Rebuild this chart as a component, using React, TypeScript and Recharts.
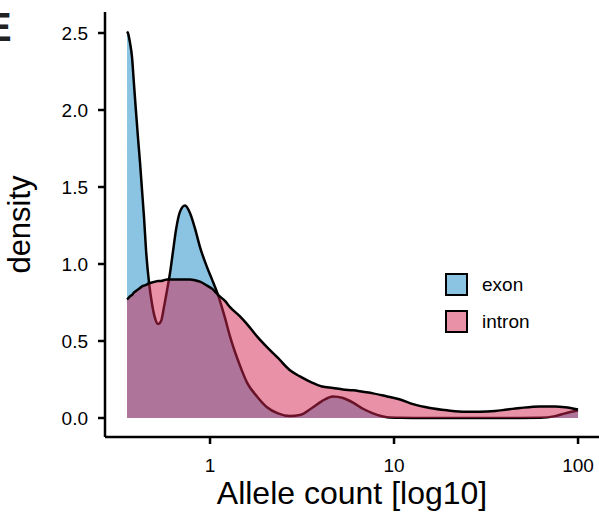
import React from 'react';
import { AreaChart, Area, XAxis, YAxis, Label } from 'recharts';

// allele count (x, log scale) and density of each class
const alleleCounts = [
  0.354, 0.358, 0.367, 0.377, 0.386, 0.396, 0.406, 0.417, 0.427, 0.438,
  0.449, 0.466, 0.484, 0.502, 0.522, 0.542, 0.562, 0.584, 0.606, 0.629,
  0.653, 0.687, 0.731, 0.779, 0.829, 0.882, 0.963, 1.025, 1.105, 1.206,
  1.284, 1.455, 1.589, 1.8, 2.04, 2.34, 2.72, 3.08, 3.58, 4.06,
  4.66, 5.28, 5.99, 6.78, 7.69, 9.16, 10.8, 12.7, 15.7, 19.4,
  24.3, 29.3, 35.4, 41.1, 48.4, 62.2, 75.0, 85.0, 100,
];
const exonDensity = [
  2.51, 2.5, 2.44, 2.34, 2.17, 1.99, 1.82, 1.65, 1.48, 1.3,
  1.09, 0.88, 0.74, 0.65, 0.61, 0.63, 0.72, 0.83, 0.94, 1.08,
  1.22, 1.34, 1.38, 1.33, 1.23, 1.11, 0.98, 0.9, 0.8, 0.65,
  0.53, 0.34, 0.23, 0.14, 0.07, 0.03, 0.013, 0.02, 0.065, 0.11,
  0.14, 0.13, 0.1, 0.06, 0.03, 0.005, 0.001, 0, 0, 0,
  0, 0, 0, 0, 0, 0.001, 0.012, 0.03, 0.05,
];
const intronDensity = [
  0.77, 0.775, 0.79, 0.8, 0.815, 0.825, 0.835, 0.845, 0.855, 0.86,
  0.865, 0.875, 0.88, 0.885, 0.89, 0.89, 0.895, 0.9, 0.9, 0.9,
  0.9, 0.9, 0.9, 0.9, 0.895, 0.885, 0.86, 0.84, 0.8, 0.76,
  0.72, 0.66, 0.61, 0.53, 0.46, 0.39, 0.31, 0.27, 0.23, 0.205,
  0.195, 0.185, 0.18, 0.17, 0.16, 0.14, 0.12, 0.09, 0.065, 0.05,
  0.04, 0.04, 0.045, 0.055, 0.065, 0.075, 0.075, 0.07, 0.055,
];
const xTicks = [1, 10, 100];
const yTicks = [0, 0.5, 1, 1.5, 2, 2.5];
const groups = ['exon', 'intron'];

const FONT = '"Liberation Sans", Arial, Helvetica, sans-serif';
const EXON_FILL = '#8bc4e2';
const INTRON_FILL = '#d1234f';
const INTRON_SWATCH = '#e891a7';

const data = alleleCounts.map((c, i) => ({
  count: c,
  exon: exonDensity[i],
  intron: intronDensity[i],
}));

const tickStyle = { fill: '#000', fontSize: 19, fontFamily: FONT };

export default function App() {
  return (
    <div style={{ position: 'absolute', left: 0, top: 0, width: 599, height: 512, background: '#fff', fontFamily: FONT }}>
      <AreaChart width={599} height={512} data={data} margin={{ top: 12, right: 0, bottom: 0, left: 0 }}>
        <XAxis
          dataKey="count"
          type="number"
          scale="log"
          domain={[0.2687, 130.0]}
          allowDataOverflow
          ticks={xTicks}
          tickFormatter={v => String(v)}
          tick={tickStyle}
          tickSize={7}
          tickMargin={15}
          height={75}
          axisLine={{ stroke: '#000', strokeWidth: 2.5 }}
          tickLine={{ stroke: '#000', strokeWidth: 2.5 }}
        >
          <Label
            content={({ viewBox }: any) => (
              <text x={viewBox.x + viewBox.width / 2} y={504} textAnchor="middle"
                fontSize={32} fontFamily={FONT} fill="#000">
                Allele count [log10]
              </text>
            )}
          />
        </XAxis>
        <YAxis
          type="number"
          domain={[-0.1234, 2.6364]}
          allowDataOverflow
          ticks={yTicks}
          tickFormatter={v => Number(v).toFixed(1)}
          tick={tickStyle}
          tickSize={7}
          tickMargin={10}
          width={105}
          axisLine={{ stroke: '#000', strokeWidth: 2.5 }}
          tickLine={{ stroke: '#000', strokeWidth: 2.5 }}
        >
          <Label
            content={({ viewBox }: any) => {
              const cy = viewBox.y + viewBox.height / 2;
              return (
                <text x={30} y={cy} textAnchor="middle" transform={`rotate(-90, 30, ${cy})`}
                  fontSize={31} fontFamily={FONT} fill="#000">
                  density
                </text>
              );
            }}
          />
        </YAxis>
        <Area type="monotone" dataKey="exon" baseValue={0} fill={EXON_FILL} fillOpacity={1}
          stroke="#000" strokeWidth={2.5} dot={false} activeDot={false} isAnimationActive={false} />
        <Area type="monotone" dataKey="intron" baseValue={0} fill={INTRON_FILL} fillOpacity={0.5}
          stroke="#000" strokeWidth={2.5} dot={false} activeDot={false} isAnimationActive={false} />
      </AreaChart>

      {/* legend */}
      {groups.map((g, i) => (
        <div key={g} style={{ position: 'absolute', left: 445, top: 273 + i * 37, display: 'flex', alignItems: 'center', height: 23 }}>
          <span style={{
            display: 'inline-block', width: 23, height: 23, boxSizing: 'border-box',
            border: '2px solid #000', background: g === 'exon' ? EXON_FILL : INTRON_SWATCH,
          }} />
          <span style={{ marginLeft: 14, fontSize: 19, color: '#000' }}>{g}</span>
        </div>
      ))}

      {/* panel letter, cut off at the left edge */}
      <div style={{ position: 'absolute', left: -15, top: 7, fontSize: 40, lineHeight: '40px', fontWeight: 700, color: '#222' }}>E</div>
    </div>
  );
}
